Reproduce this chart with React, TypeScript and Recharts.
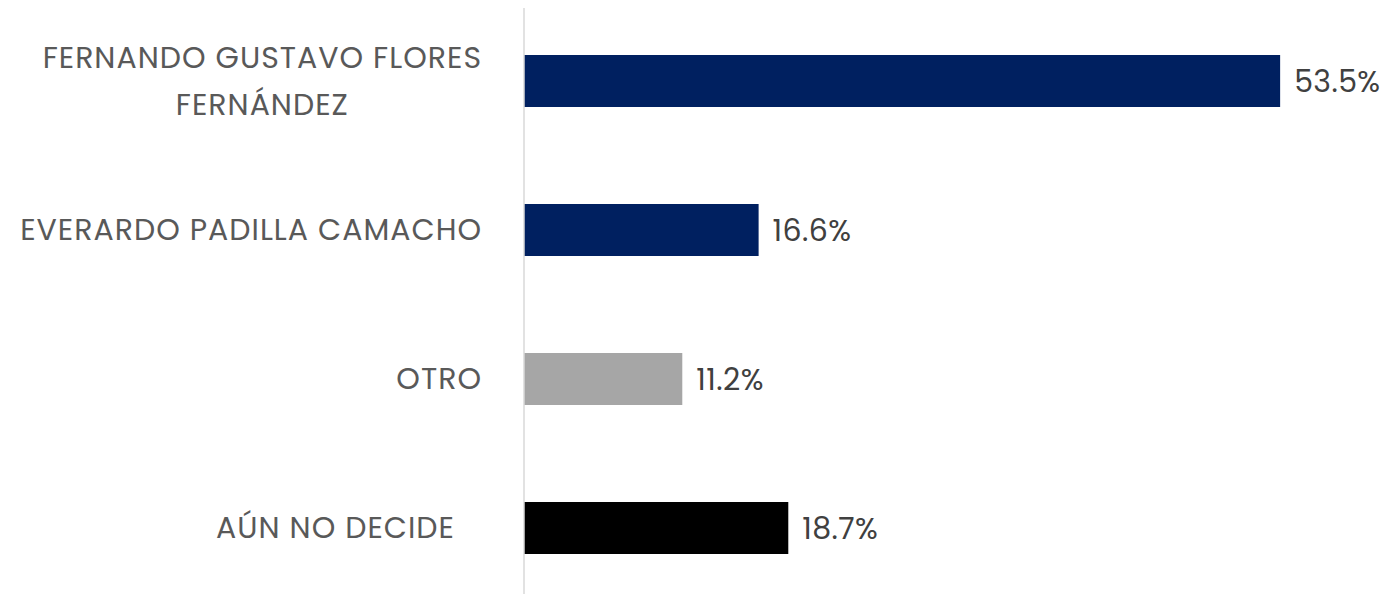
import { BarChart, Bar, XAxis, YAxis, Cell, LabelList } from "recharts";

const candidates = [
  "FERNANDO GUSTAVO FLORES\nFERNÁNDEZ",
  "EVERARDO PADILLA CAMACHO",
  "OTRO",
  "AÚN NO DECIDE\u00a0\u00a0\u00a0",
];
const shares = [53.5, 16.6, 11.2, 18.7];
const barColors = ["#002060", "#002060", "#A6A6A6", "#000000"];

const data = candidates.map((name, i) => ({ name, value: shares[i] }));

const FONT = "Poppins, 'Open Sans', sans-serif";
const SIZE = 30;
const SPACING = 1;

let ctx: CanvasRenderingContext2D | null = null;
function measure(text: string) {
  if (!ctx) ctx = document.createElement("canvas").getContext("2d");
  if (!ctx) return text.length * SIZE * 0.6;
  ctx.font = `${SIZE}px ${FONT}`;
  return ctx.measureText(text).width + text.length * SPACING;
}

function CandidateTick(props: any) {
  const { x, y, payload } = props;
  const lines: string[] = String(payload.value).split("\n");
  const lineGap = 47;
  const widest = Math.max(...lines.map((l) => measure(l)));
  const cx = x - widest / 2;
  const first = y - ((lines.length - 1) * lineGap) / 2;
  return (
    <g>
      {lines.map((line, i) => (
        <text
          key={i}
          x={lines.length > 1 ? cx : x}
          y={first + i * lineGap}
          dy="0.35em"
          textAnchor={lines.length > 1 ? "middle" : "end"}
          fill="#595959"
          fontSize={SIZE}
          letterSpacing={SPACING}
          fontFamily={FONT}
        >
          {line}
        </text>
      ))}
    </g>
  );
}

export default function App() {
  return (
    <div style={{ margin: -8, width: 1389, height: 602, background: "#fff" }}>
      <BarChart
        width={1389}
        height={602}
        data={data}
        layout="vertical"
        margin={{ top: 6, right: 17, bottom: 0, left: 0 }}
        barCategoryGap={0}
      >
        <XAxis type="number" domain={[0, 60]} hide />
        <YAxis
          type="category"
          dataKey="name"
          width={524}
          tickLine={false}
          tickSize={0}
          tickMargin={42}
          axisLine={{ stroke: "#D9D9D9", strokeWidth: 1.5 }}
          tick={<CandidateTick />}
          interval={0}
        />
        <Bar dataKey="value" barSize={52} isAnimationActive={false}>
          {data.map((_, i) => (
            <Cell key={i} fill={barColors[i]} />
          ))}
          <LabelList
            dataKey="value"
            position="right"
            offset={14}
            formatter={(v: any) => `${Number(v).toFixed(1)}%`}
            fill="#404040"
            fontSize={SIZE}
            letterSpacing={0.4}
            fontFamily={FONT}
          />
        </Bar>
      </BarChart>
    </div>
  );
}
